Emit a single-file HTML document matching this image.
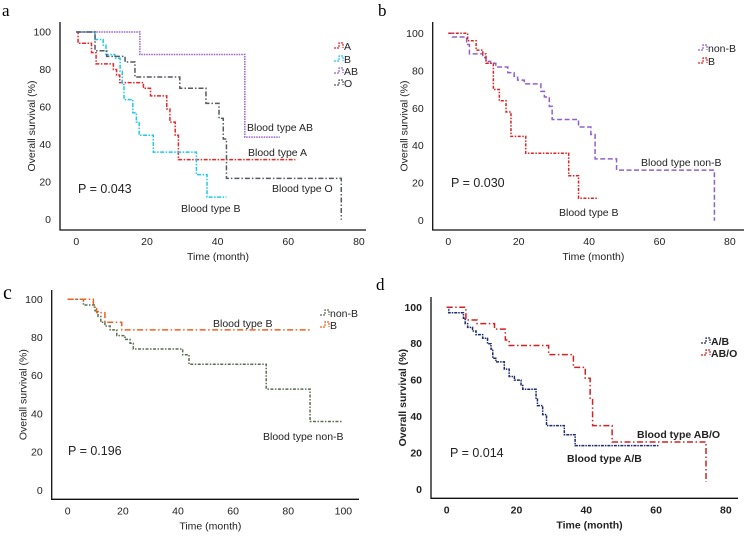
<!DOCTYPE html>
<html><head><meta charset="utf-8">
<style>
html,body{margin:0;padding:0;background:#fff;}
svg{display:block;font-family:"Liberation Sans",Arial,sans-serif;}
</style></head>
<body>
<svg id="fig" width="752" height="538" viewBox="0 0 752 538" xmlns="http://www.w3.org/2000/svg"></svg>
<script>
// ---- data (time in months, survival in %) ----
const aTicksX = [0,20,40,60,80];
const aTicksY = [0,20,40,60,80,100];
const cTicksX = [0,20,40,60,80,100];

const aA_t = [0,0.5,4.3,5.6,10.5,11.4,12.3,19,21,25.6,26.5,28,28.9,62];
const aA_s = [100,94,89,83,80,77,73,70,66,59,52,45,32,32];
const aB_t = [0,5.3,7.6,8.4,10.9,12.4,13,13.5,16,17,17.8,21.8,34,37,42.5];
const aB_s = [100,96,93,88,86,79,72,64,57,52,45,36,24,12,12];
const aAB_t = [0,18,47.7,57.6];
const aAB_s = [100,88,44,44];
const aO_t = [0,5.3,8.6,13.8,16.6,29.3,36.7,40.4,41.6,42.5,75,75];
const aO_s = [100,90,87,84,76,70,62,54,43,22,22,0];

const bNonB_t = [0,1.2,5.2,6,9.8,10.7,12,13.5,16.9,18.7,19.7,21.6,26.3,27.3,28.7,29.5,37,40.5,41.7,47.8,75.6,75.6];
const bNonB_s = [100,98,94,89,87,85,84,82,79,77,75,73,69,66,61,54,50,46,33,27,27,0];
const bB_t = [0,5.5,7.9,9.8,10.7,12.8,14.5,16.4,17.8,22,34.2,37,42.7];
const bB_s = [100,96,91,89,84,70,64,58,45,36,24,12,12];

const cNonB_t = [0,5.7,9.9,11,12,13.5,15.4,17.8,20.8,22.6,23.8,41.7,44,72,87.9,99.6];
const cNonB_s = [100,97,94,91,88,86,84,81,79,77,74,71,66,53,36,36];
const cB_t = [0,9.3,10.5,13.5,19.6,88.5];
const cB_s = [100,96,93,88,84,84];

const dAB_t = [0,0.6,4.8,5.3,6,7.4,8.4,10.3,11.7,12.7,13.2,14.1,16.5,17.9,19.4,21.3,21.8,25.6,26,27.5,28.6,33.7,36.8,60.9];
const dAB_s = [100,97,94,91,89,87,85,83,80,77,72,70,66,62,60,57,55,50,46,41,35,30,24,24];
const dABO_t = [0,5.5,8.7,13.7,16.8,17.9,29.2,36.3,39.7,41.1,41.8,47.4,74.3,74.3];
const dABO_s = [100,93,91,88,82,79,74,67,61,50,35,26,26,4];

const NS = "http://www.w3.org/2000/svg";
const svg = document.getElementById('fig');
function mk(tag, attrs, parent){
  const e = document.createElementNS(NS, tag);
  for (const k in attrs) e.setAttribute(k, attrs[k]);
  (parent||svg).appendChild(e);
  return e;
}
function txt(x,y,s,opts,parent){
  const e = mk('text',{x:x,y:y,'font-size':opts.size||10,'text-anchor':opts.anchor||'start','fill':opts.fill||'#222','font-weight':opts.bold?'bold':'normal','font-family':opts.serif?'"Liberation Serif",serif':'"Liberation Sans",Arial,sans-serif'},parent);
  if(opts.rot) e.setAttribute('transform','rotate(-90 '+x+' '+y+')');
  e.textContent = s;
  return e;
}

const panels = [
 {id:'a', ox:76.3, xs:3.533, oy:219.7, ys:1.877, axL:60, axT:22, axB:230, axR:366, ticksX:aTicksX, lx:2, ly:16, bold:false,
  series:[
   {name:'A', t:aA_t, s:aA_s, col:'#e8262a', dash:'4 1.5 1.5 1.5'},
   {name:'B', t:aB_t, s:aB_s, col:'#1ec8e8', dash:'4 1.5 1.5 1.5'},
   {name:'AB', t:aAB_t, s:aAB_s, col:'#9a5fd0', dash:'1.5 1'},
   {name:'O', t:aO_t, s:aO_s, col:'#555a60', dash:'5 2 1.5 2'}],
  legX:334, legY:[46,59,71,83], pval:['P = 0.043',78,193],
  labels:[['Blood type AB',247,131],['Blood type A',248,156],['Blood type O',272,192],['Blood type B',181,212]]},
 {id:'b', ox:448.3, xs:3.52, oy:220.7, ys:1.874, axL:432.7, axT:22, axB:230, axR:744, ticksX:aTicksX, lx:378, ly:16, bold:false,
  series:[
   {name:'non-B', t:bNonB_t, s:bNonB_s, col:'#9060c8', dash:'5 2.5'},
   {name:'B', t:bB_t, s:bB_s, col:'#e02020', dash:'3 1.5 1.5 1.5'}],
  legX:698, legY:[48,61], pval:['P = 0.030',451,187],
  labels:[['Blood type non-B',641,166],['Blood  type B',559,216]]},
 {id:'c', ox:67.7, xs:2.757, oy:490.3, ys:1.91, axL:51.7, axT:290, axB:499.3, axR:359, ticksX:cTicksX, lx:3, ly:299, bold:false,
  series:[
   {name:'non-B', t:cNonB_t, s:cNonB_s, col:'#5a6e50', dash:'3 1.5 1.5 1.5'},
   {name:'B', t:cB_t, s:cB_s, col:'#f06020', dash:'6 2.5 1.5 2.5'}],
  legX:320, legY:[313,325], pval:['P = 0.196',68,455],
  labels:[['Blood type B',213,327],['Blood type non-B',263,440]]},
 {id:'d', ox:446.7, xs:3.49, oy:489.3, ys:1.82, axL:431, axT:297, axB:498.3, axR:738, ticksX:aTicksX, lx:376, ly:290, bold:true,
  series:[
   {name:'A/B', t:dAB_t, s:dAB_s, col:'#1a2a6a', dash:'3 1 1.5 1'},
   {name:'AB/O', t:dABO_t, s:dABO_s, col:'#d42020', dash:'6 2.5 1.5 2.5'}],
  legX:701, legY:[341,353], pval:['P = 0.014',450,457],
  labels:[['Blood type AB/O',637,438,true],['Blood type A/B',567,462,true]]}
];

panels.forEach(p=>{
  const g = mk('g',{});
  
  
  const X = t=>p.ox + t*p.xs, Y = s=>p.oy - s*p.ys;
  const lt = txt(p.lx,p.ly,p.id,{size:p.id==='c'?20:17,serif:true,fill:'#000'},g);
  
  
  const ax = mk('path',{d:'M'+p.axL+' '+p.axT+' V'+p.axB+' H'+p.axR, stroke:'#111','stroke-width':1.3, fill:'none'},g);
  
  
  aTicksY.forEach(v=>{
    const e = txt(p.axL-9, Y(v)+3.5, String(v), {anchor:'end',size:10.5,bold:p.bold},g);
    
    
  });
  p.ticksX.forEach(v=>{
    const e = txt(X(v), p.axB+15, String(v), {anchor:'middle',size:10.5,bold:p.bold},g);
    
    
  });
  const yt = txt(p.axL-25,(p.axT+p.axB)/2,'Overall survival (%)',{anchor:'middle',size:10.5,rot:true,bold:p.bold},g);
  
  
  const xt = txt((p.axL+p.axR)/2+5,p.axB+30,'Time (month)',{anchor:'middle',size:10.5,bold:p.bold},g);
  
  
  p.series.forEach((sr,i)=>{
    let d = 'M'+X(sr.t[0])+' '+Y(sr.s[0]);
    for(let k=1;k<sr.t.length;k++){
      d += ' H'+X(sr.t[k])+' V'+Y(sr.s[k]);
    }
    const path = mk('path',{d:d, stroke:sr.col,'stroke-width':1.5,fill:'none','stroke-dasharray':sr.dash},g);
    
    
    const ly = p.legY[i];
    const lg = mk('g',{},g);
    
    
    mk('path',{d:'M'+p.legX+' '+(ly+2)+' h5 v-5 h4 v5',stroke:sr.col,'stroke-width':1.2,fill:'none','stroke-dasharray':'2 1'},lg);
    txt(p.legX+10, ly+4, sr.name, {size:10.5,fill:'#222',bold:p.bold},lg);
  });
  const pv = txt(p.pval[1],p.pval[2],p.pval[0],{size:12.5},g);
  
  
  p.labels.forEach(l=>{
    const e = txt(l[1],l[2],l[0],{size:10.5,bold:!!l[3]},g);
    
    
  });
});
</script>
</body></html>
